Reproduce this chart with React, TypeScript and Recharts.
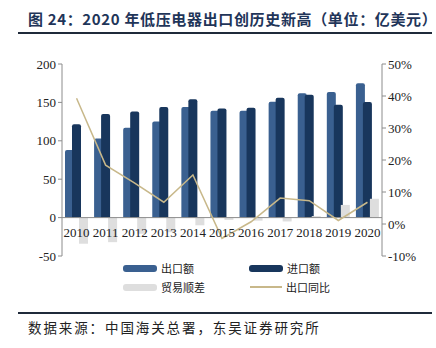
import { ComposedChart, Bar, Line, XAxis, YAxis, ReferenceLine } from "recharts";

const years = ["2010", "2011", "2012", "2013", "2014", "2015", "2016", "2017", "2018", "2019", "2020"];
const exportsVal = [88, 103, 117, 125, 144, 139, 139, 151, 162, 163.5, 175];
const importsVal = [121.5, 135, 138, 144, 154, 142, 143, 156, 160, 147, 150.5];
const surplus = [-34, -32, -21, -19, -10, -3, -4, -5, 2, 16.5, 24.5];
const exportYoY = [39.3, 18.4, 12.8, 6.8, 15.3, -4.5, 0.7, 8.1, 7.3, 1.1, 6.8];
const leftTicks = [-50, 0, 50, 100, 150, 200];
const rightTicks = [-10, 0, 10, 20, 30, 40, 50];

const C_EXP = "#3a6090";
const C_IMP = "#18365c";
const C_SUR = "#dedede";
const C_YOY = "#c8b88a";
const AXIS = "#8c8c8c";
const SERIF = "'Liberation Serif', 'Times New Roman', serif";
const CJK = "'Noto Sans CJK SC', sans-serif";

const data = years.map((y, i) => ({
  year: y,
  exp: exportsVal[i],
  imp: importsVal[i],
  sur: surplus[i],
  yoy: exportYoY[i],
}));

// category labels sit just under the zero line, not at the bottom of the plot
function YearTick({ x, y, payload }: any) {
  return (
    <text x={x} y={y - 27} textAnchor="middle" fontFamily={SERIF} fontSize={13} fill="#222">
      {payload.value}
    </text>
  );
}

function Swatch({ color, line }: { color: string; line?: boolean }) {
  if (line) return <span style={{ display: "inline-block", width: 32, height: 1.5, background: color, verticalAlign: "middle" }} />;
  return <span style={{ display: "inline-block", width: 34, height: 7, background: color, borderRadius: 3, verticalAlign: "middle" }} />;
}

export default function App() {
  const legendItem = (left: number, top: number, label: string, color: string, line?: boolean) => (
    <div style={{ position: "absolute", left, top, display: "flex", alignItems: "center", gap: 4, fontFamily: CJK, fontSize: 11, color: "#222", lineHeight: "14px" }}>
      <Swatch color={color} line={line} />
      <span>{label}</span>
    </div>
  );

  return (
    <div style={{ position: "absolute", left: 0, top: 0, width: 436, height: 348, background: "#fff", overflow: "hidden" }}>
      <div style={{ position: "absolute", left: 28, top: 8, fontFamily: CJK, fontWeight: 700, fontSize: 15, color: "#1f3559", whiteSpace: "nowrap", letterSpacing: 0.65 }}>
        图 24：2020 年低压电器出口创历史新高（单位：亿美元）
      </div>
      <div style={{ position: "absolute", left: 18, top: 32, width: 414, height: 2, background: "#1f2a3a" }} />

      <div style={{ position: "absolute", left: 0, top: 0 }}>
        <ComposedChart width={436} height={300} data={data} margin={{ top: 64, right: 14, bottom: 24, left: 22 }} barSize={9} barGap={-2}>
          <XAxis dataKey="year" axisLine={false} tickLine={false} tick={<YearTick />} interval={0} height={20} />
          <YAxis
            yAxisId="left" domain={[-50, 200]} ticks={leftTicks} width={40}
            stroke={AXIS} tickSize={4} tick={{ fontFamily: SERIF, fontSize: 13, fill: "#222" }}
          />
          <YAxis
            yAxisId="right" orientation="right" domain={[-10, 50]} ticks={rightTicks} width={40}
            stroke={AXIS} tickSize={4} tickFormatter={(v) => `${v}%`}
            tick={{ fontFamily: SERIF, fontSize: 13, fill: "#222" }}
          />
          <ReferenceLine yAxisId="left" y={0} stroke={AXIS} />
          <Bar yAxisId="left" dataKey="exp" fill={C_EXP} radius={[2, 2, 0, 0]} isAnimationActive={false} />
          <Bar yAxisId="left" dataKey="imp" fill={C_IMP} radius={[2, 2, 0, 0]} isAnimationActive={false} />
          <Bar yAxisId="left" dataKey="sur" fill={C_SUR} isAnimationActive={false} />
          <Line yAxisId="right" dataKey="yoy" stroke={C_YOY} strokeWidth={1.5} dot={false} type="linear" isAnimationActive={false} />
        </ComposedChart>
      </div>

      {legendItem(123, 261, "出口额", C_EXP)}
      {legendItem(249, 261, "进口额", C_IMP)}
      {legendItem(123, 280, "贸易顺差", C_SUR)}
      {legendItem(250, 280, "出口同比", C_YOY, true)}

      <div style={{ position: "absolute", left: 18, top: 312, width: 414, height: 1.5, background: "#1f2a3a" }} />
      <div style={{ position: "absolute", left: 28, top: 317, fontFamily: CJK, fontSize: 13.5, color: "#222", whiteSpace: "nowrap", letterSpacing: 1.9 }}>
        数据来源：中国海关总署，东吴证券研究所
      </div>
    </div>
  );
}
